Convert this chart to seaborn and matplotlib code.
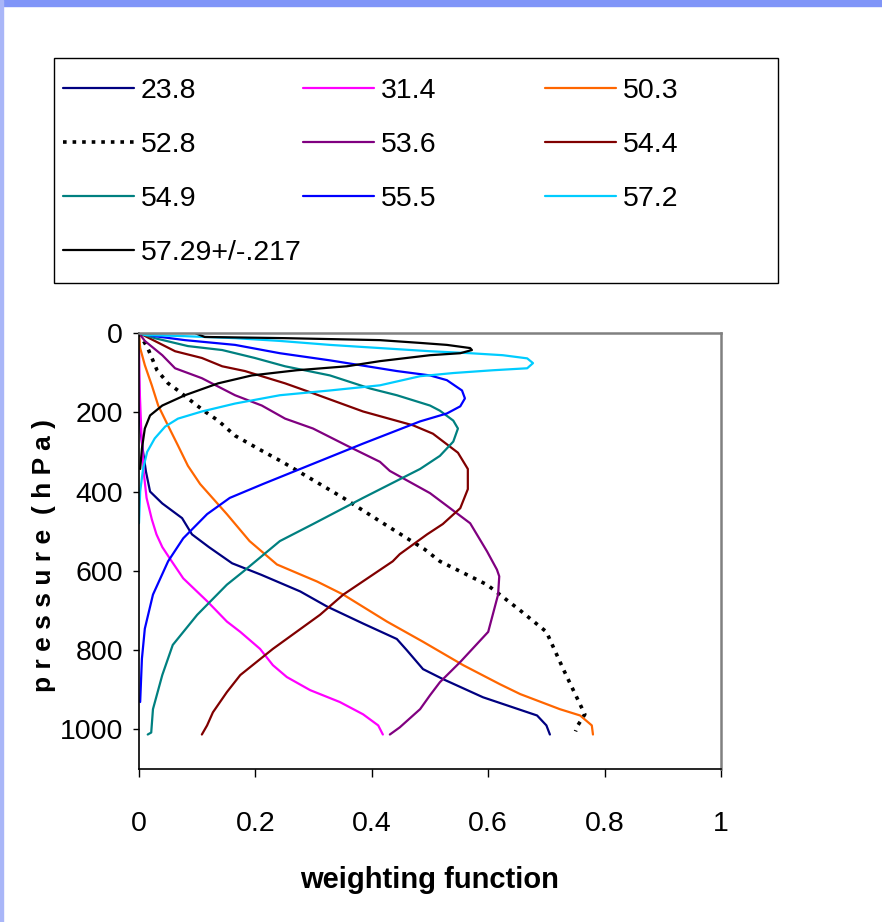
import matplotlib
matplotlib.use("Agg")
import matplotlib.pyplot as plt
import matplotlib.patches as mpatches
from matplotlib import font_manager
import pandas as pd
import seaborn as sns

# channel labels (GHz) and line styles
channels = ["23.8", "31.4", "50.3", "52.8", "53.6", "54.4", "54.9", "55.5", "57.2", "57.29+/-.217"]
colors = ["#000080", "#FF00FF", "#FF6600", "#000000", "#800080",
          "#800000", "#008080", "#0000FF", "#00CCFF", "#000000"]

# weighting functions: pressure (hPa) and weight
p_238 = [0, 100, 200, 250, 300, 350, 400, 430, 467, 508, 540, 581, 610, 652, 690, 733, 772, 800, 848, 873, 919, 965, 990, 1013]
w_238 = [0.0, 0.0, 0.001, 0.003, 0.007, 0.012, 0.019, 0.04, 0.074, 0.091, 0.12, 0.16, 0.21, 0.277, 0.323, 0.385, 0.443, 0.46, 0.488, 0.522, 0.591, 0.684, 0.70, 0.706]

p_314 = [0, 50, 137, 250, 350, 416, 470, 508, 540, 569, 619, 678, 728, 754, 797, 838, 868, 901, 931, 962, 990, 1013]
w_314 = [0.0, 0.0, 0.001, 0.004, 0.008, 0.013, 0.022, 0.03, 0.04, 0.053, 0.076, 0.118, 0.151, 0.174, 0.208, 0.23, 0.254, 0.294, 0.345, 0.385, 0.411, 0.419]

p_503 = [0, 38, 81, 132, 183, 234, 284, 335, 381, 457, 525, 584, 609, 627, 660, 728, 779, 838, 886, 911, 949, 965, 990, 1013]
w_503 = [0.0, 0.002, 0.01, 0.022, 0.033, 0.05, 0.067, 0.084, 0.105, 0.151, 0.19, 0.237, 0.277, 0.306, 0.351, 0.426, 0.488, 0.557, 0.62, 0.655, 0.723, 0.758, 0.778, 0.78]

p_528 = [0, 13, 38, 94, 127, 145, 165, 198, 221, 259, 297, 325, 416, 475, 546, 576, 635, 660, 700, 754, 848, 962, 990, 1005]
w_528 = [0.0, 0.005, 0.015, 0.031, 0.05, 0.067, 0.084, 0.113, 0.136, 0.165, 0.211, 0.246, 0.351, 0.414, 0.491, 0.517, 0.598, 0.62, 0.655, 0.70, 0.729, 0.766, 0.754, 0.75]

p_536 = [0, 20, 56, 89, 114, 157, 183, 216, 241, 284, 325, 348, 404, 480, 551, 597, 614, 660, 754, 830, 881, 914, 949, 995, 1013]
w_536 = [0.0, 0.01, 0.04, 0.062, 0.108, 0.165, 0.211, 0.251, 0.299, 0.357, 0.414, 0.431, 0.5, 0.569, 0.598, 0.615, 0.619, 0.617, 0.6, 0.552, 0.517, 0.5, 0.483, 0.448, 0.431]

p_544 = [0, 20, 46, 63, 84, 96, 114, 127, 152, 198, 233, 254, 302, 343, 394, 442, 482, 508, 558, 576, 660, 711, 797, 863, 906, 957, 990, 1013]
w_544 = [0.0, 0.027, 0.062, 0.108, 0.143, 0.182, 0.222, 0.251, 0.299, 0.385, 0.471, 0.505, 0.548, 0.565, 0.565, 0.552, 0.522, 0.495, 0.448, 0.436, 0.351, 0.311, 0.23, 0.174, 0.151, 0.127, 0.117, 0.108]

p_549 = [0, 13, 33, 43, 63, 84, 107, 140, 157, 183, 196, 221, 241, 274, 310, 343, 416, 482, 525, 602, 635, 711, 787, 863, 949, 1008, 1013]
w_549 = [0.0, 0.027, 0.084, 0.143, 0.199, 0.251, 0.328, 0.397, 0.443, 0.5, 0.517, 0.54, 0.548, 0.54, 0.517, 0.483, 0.385, 0.299, 0.242, 0.179, 0.151, 0.1, 0.058, 0.04, 0.024, 0.021, 0.015]

p_555 = [0, 8, 18, 30, 51, 69, 84, 96, 107, 119, 145, 165, 185, 203, 223, 279, 330, 381, 416, 457, 518, 576, 660, 746, 822, 931]
w_555 = [0.0, 0.027, 0.079, 0.165, 0.242, 0.328, 0.392, 0.443, 0.5, 0.529, 0.555, 0.56, 0.552, 0.529, 0.483, 0.385, 0.299, 0.213, 0.156, 0.117, 0.076, 0.05, 0.024, 0.01, 0.005, 0.002]

p_572 = [0, 5, 8, 13, 20, 30, 38, 46, 51, 56, 64, 76, 89, 94, 101, 109, 132, 145, 157, 178, 198, 216, 236, 266, 300, 343, 400, 480]
w_572 = [0.0, 0.01, 0.079, 0.165, 0.242, 0.328, 0.414, 0.5, 0.569, 0.625, 0.667, 0.677, 0.667, 0.608, 0.54, 0.483, 0.414, 0.328, 0.242, 0.165, 0.108, 0.067, 0.045, 0.027, 0.014, 0.007, 0.002, 0.0]

p_5729 = [0, 0, 10, 13, 18, 25, 30, 38, 43, 51, 56, 71, 84, 94, 107, 127, 157, 183, 208, 241, 292, 343]
w_5729 = [0.0, 0.096, 0.113, 0.251, 0.414, 0.483, 0.529, 0.569, 0.572, 0.552, 0.5, 0.414, 0.357, 0.271, 0.194, 0.136, 0.079, 0.04, 0.019, 0.01, 0.005, 0.002]

pressures = [p_238, p_314, p_503, p_528, p_536, p_544, p_549, p_555, p_572, p_5729]
weights = [w_238, w_314, w_503, w_528, w_536, w_544, w_549, w_555, w_572, w_5729]

W, H = 882, 922
FS = 20.5

sns.set_style("white")
available = {f.name for f in font_manager.fontManager.ttflist}
narrow = "Liberation Sans Narrow" if "Liberation Sans Narrow" in available else "Liberation Sans"
plt.rcParams["font.family"] = [narrow, "DejaVu Sans"]
plt.rcParams.update({"text.color": "black", "axes.labelcolor": "black",
                     "xtick.color": "black", "ytick.color": "black"})

fig = plt.figure(figsize=(W / 100, H / 100), dpi=100)
fig.patch.set_facecolor("white")

# slide-like frame stripes
fig.patches.append(mpatches.Rectangle((0, 1 - 6 / H), 1, 6 / H, transform=fig.transFigure,
                                      color="#8095F8", zorder=0))
fig.patches.append(mpatches.Rectangle((0, 0), 3 / W, 1, transform=fig.transFigure,
                                      color="#A9B6F8", zorder=0))

ax = fig.add_axes([139 / W, 1 - 769 / H, 582 / W, 436 / H])

handles = {}
for ch, col, p, w in zip(channels, colors, pressures, weights):
    df = pd.DataFrame({"w": w, "p": p})
    ls = ":" if ch == "52.8" else "-"
    lw = 2.6 if ch == "52.8" else 1.6
    sns.lineplot(data=df, x="w", y="p", sort=False, estimator=None, ax=ax,
                 color=col, linestyle=ls, linewidth=lw, label=ch, legend=False)
    handles[ch] = ax.lines[-1]

ax.set_xlim(0, 1)
ax.set_ylim(1100, 0)
ax.set_xticks([0, 0.2, 0.4, 0.6, 0.8, 1.0])
ax.set_xticklabels(["0", "0.2", "0.4", "0.6", "0.8", "1"])
ax.set_yticks([0, 200, 400, 600, 800, 1000])
ax.tick_params(axis="y", which="major", left=True, length=4.5, width=1, pad=7,
               labelsize=FS, color="black")
ax.tick_params(axis="x", which="major", bottom=True, length=6, width=1, pad=24,
               labelsize=FS, color="black")

for side in ["left", "bottom"]:
    ax.spines[side].set_color("black")
    ax.spines[side].set_linewidth(1.2)
for side in ["top", "right"]:
    ax.spines[side].set_color("#808080")
    ax.spines[side].set_linewidth(1.8)

ax.set_xlabel("weighting function", fontsize=21, fontweight="bold")
ax.xaxis.set_label_coords(0.5, -0.222)
ax.set_ylabel("p r e s s u r e  ( h P a )", fontsize=19, fontweight="bold")
ax.yaxis.set_label_coords(-0.142, 0.49)

# legend frame and three columns of entries
fig.patches.append(mpatches.Rectangle((54 / W, 1 - 283 / H), (778 - 54) / W, (283 - 58) / H,
                                      transform=fig.transFigure, facecolor="white",
                                      edgecolor="black", linewidth=1, zorder=1))
columns = [["23.8", "52.8", "54.9", "57.29+/-.217"],
           ["31.4", "53.6", "55.5"],
           ["50.3", "54.4", "57.2"]]
col_x = [63, 303, 545]
for names, x0 in zip(columns, col_x):
    leg = fig.legend([handles[n] for n in names], names, loc="upper left",
                     bbox_to_anchor=(x0 / W, 1 - 78 / H), frameon=False,
                     fontsize=FS, handlelength=2.5, handletextpad=0.22,
                     labelspacing=0.98, borderpad=0, borderaxespad=0)
    leg.set_zorder(2)

fig.savefig("out.png", dpi=100)
